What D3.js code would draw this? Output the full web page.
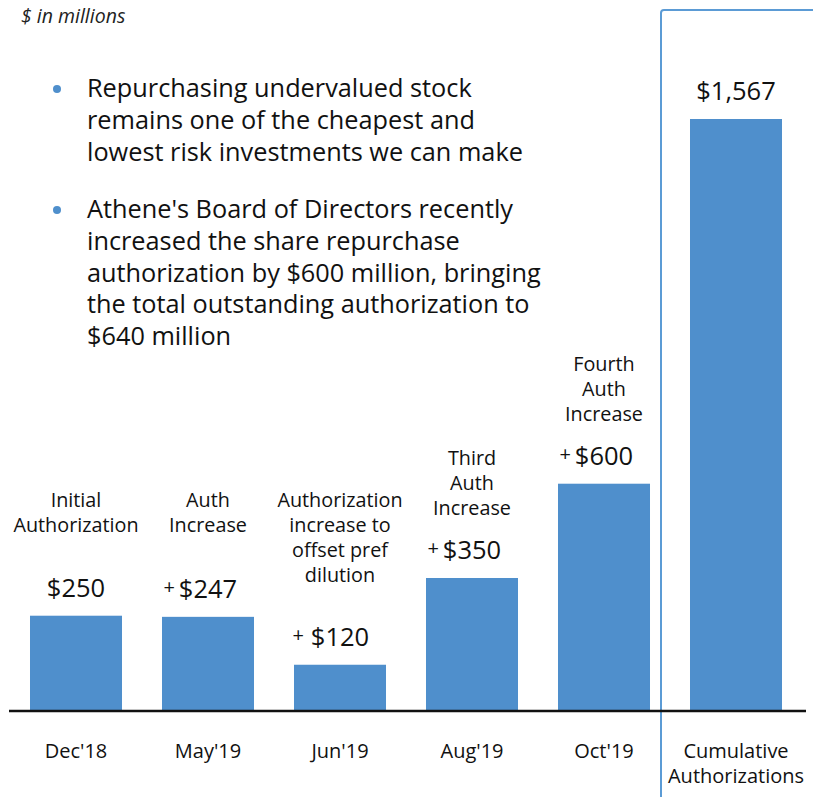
<!DOCTYPE html>
<html>
<head>
<meta charset="utf-8">
<script src="https://cdn.jsdelivr.net/npm/d3@7"></script>
<style>
  html, body { margin: 0; padding: 0; background: #fff; }
  svg { display: block; }
  text { font-family: "Open Sans", "Noto Sans", sans-serif; fill: #111; }
</style>
</head>
<body>
<div id="chart"></div>
<script>
const categories = ["Dec'18", "May'19", "Jun'19", "Aug'19", "Oct'19", "Cumulative Authorizations"];
const axisLines = [["Dec'18"], ["May'19"], ["Jun'19"], ["Aug'19"], ["Oct'19"], ["Cumulative", "Authorizations"]];
const values = [250, 247, 120, 350, 600, 1567];
const valueLabels = ["$250", "$247", "$120", "$350", "$600", "$1,567"];
const prefixes = ["", "+", "+", "+", "+", ""];
const descriptions = [
	["Initial", "Authorization"],
	["Auth", "Increase"],
	["Authorization", "increase to", "offset pref", "dilution"],
	["Third", "Auth", "Increase"],
	["Fourth", "Auth", "Increase"],
	[],
];
const bullets = [
	["Repurchasing undervalued stock", "remains one of the cheapest and", "lowest risk investments we can make"],
	["Athene's Board of Directors recently", "increased the share repurchase", "authorization by $600 million, bringing", "the total outstanding authorization to", "$640 million"],
];

const WIDTH = 813;
const HEIGHT = 797;
const BASE_Y = 710;
const BAR_COLOR = "#4f8fcc";
const BOX_COLOR = "#5b9bd5";

const svg = d3
	.select("#chart")
	.append("svg")
	.attr("width", WIDTH)
	.attr("height", HEIGHT);

const xScale = d3
	.scaleBand()
	.domain(categories)
	.range([10, 802])
	.paddingInner(0.303)
	.paddingOuter(0.1515);

const yScale = d3.scaleLinear().domain([0, 1567]).range([BASE_Y, 119]);

// units note
svg.append("text")
	.attr("x", 21)
	.attr("y", 23)
	.style("font-size", "19.5px")
	.style("font-style", "italic")
	.style("fill", "#222")
	.text("$ in millions");

// bullets
const bulletTops = [97, 218];
bullets.forEach((lines, i) => {
	svg.append("circle")
		.attr("cx", 57)
		.attr("cy", bulletTops[i] - 8)
		.attr("r", 4)
		.attr("fill", BAR_COLOR);
	const t = svg.append("text")
		.attr("x", 87)
		.attr("y", bulletTops[i])
		.style("font-size", "25.3px");
	lines.forEach((l, j) => {
		t.append("tspan").attr("x", 87).attr("y", bulletTops[i] + j * 31.8).text(l);
	});
});

// box around cumulative
svg.append("path")
	.attr("d", `M661,${HEIGHT} L661,13 Q661,10 664,10 L${WIDTH},10`)
	.attr("fill", "none")
	.attr("stroke", BOX_COLOR)
	.attr("stroke-width", 2);

// bars
svg.append("g")
	.selectAll("rect")
	.data(values)
	.join("rect")
	.attr("x", (d, i) => xScale(categories[i]))
	.attr("width", xScale.bandwidth())
	.attr("y", (d) => yScale(d))
	.attr("height", (d) => BASE_Y - yScale(d))
	.attr("fill", BAR_COLOR);

// baseline
svg.append("line")
	.attr("x1", 9)
	.attr("x2", 806)
	.attr("y1", BASE_Y + 1)
	.attr("y2", BASE_Y + 1)
	.attr("stroke", "#111")
	.attr("stroke-width", 2.5);

// value labels
values.forEach((v, i) => {
	const cx = xScale(categories[i]) + xScale.bandwidth() / 2;
	const vy = yScale(v) - 19;
	const lbl = svg.append("text")
		.attr("x", cx)
		.attr("y", vy)
		.attr("text-anchor", "middle")
		.style("font-size", "25.5px")
		.text(valueLabels[i]);
	if (prefixes[i]) {
		const w = lbl.node().getComputedTextLength();
		svg.append("text")
			.attr("x", cx - w / 2 - (i === 2 ? 7 : 4))
			.attr("y", vy - 4)
			.attr("text-anchor", "end")
			.style("font-size", "20px")
			.text(prefixes[i]);
	}
	// description above the value
	const lines = descriptions[i];
	if (lines.length) {
		const firstY = Math.min(vy - 44 - (lines.length - 1) * 25, 507);
		const t = svg.append("text")
			.attr("text-anchor", "middle")
			.style("font-size", "19.8px");
		lines.forEach((l, j) => {
			t.append("tspan").attr("x", cx).attr("y", firstY + j * 25).text(l);
		});
	}
});

// x axis labels
axisLines.forEach((lines, i) => {
	const cx = xScale(categories[i]) + xScale.bandwidth() / 2;
	const t = svg.append("text")
		.attr("text-anchor", "middle")
		.style("font-size", "20px");
	lines.forEach((l, j) => {
		t.append("tspan").attr("x", cx).attr("y", 758 + j * 25).text(l);
	});
});
</script>
</body>
</html>
